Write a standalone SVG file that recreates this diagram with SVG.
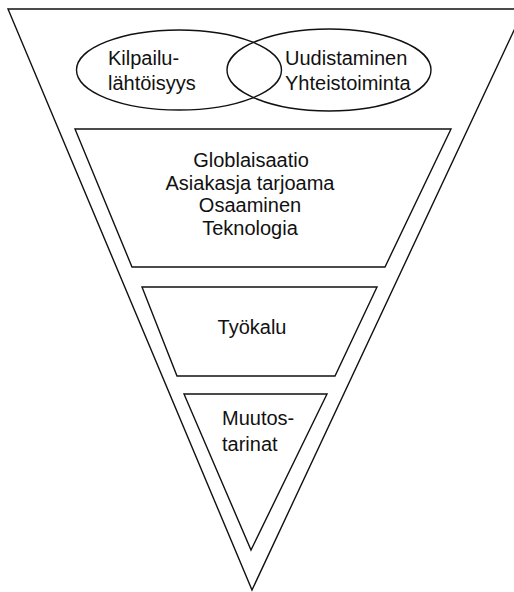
<svg xmlns="http://www.w3.org/2000/svg" width="514" height="592" viewBox="0 0 514 592">
  <style>
    .shape { fill: none; stroke: #111; stroke-width: 1.4; stroke-linejoin: miter; }
    .label { font-family: "Liberation Sans", Arial, sans-serif; font-size: 20px; fill: #111; }
    .mid { text-anchor: middle; }
  </style>
  <rect width="514" height="592" fill="#fff"/>

  <!-- outer funnel -->
  <g id="funnel">
    <polygon class="shape" points="8,9 524,9 252,590"/>
  </g>

  <!-- top level: two overlapping ellipses -->
  <g id="kilpailulahtoisyys">
    <ellipse class="shape" cx="179" cy="70" rx="102.5" ry="40"/>
    <text class="label" x="108" y="65">Kilpailu-</text>
    <text class="label" x="108" y="90">lähtöisyys</text>
  </g>
  <g id="uudistaminen">
    <ellipse class="shape" cx="329" cy="70" rx="102" ry="41"/>
    <text class="label" x="285" y="65">Uudistaminen</text>
    <text class="label" x="285" y="90">Yhteistoiminta</text>
  </g>

  <!-- second level -->
  <g id="globalisaatio">
    <polygon class="shape" points="75,129 451,129 385,267 132,267"/>
    <text class="label mid" x="251" y="167">Globlaisaatio</text>
    <text class="label mid" x="250" y="190">Asiakasja tarjoama</text>
    <text class="label mid" x="250" y="212">Osaaminen</text>
    <text class="label mid" x="250" y="235">Teknologia</text>
  </g>

  <!-- third level -->
  <g id="tyokalu">
    <polygon class="shape" points="142,287 377,287 335,376 177,376"/>
    <text class="label mid" x="252" y="334">Työkalu</text>
  </g>

  <!-- bottom level -->
  <g id="muutostarinat">
    <polygon class="shape" points="184,394 327,394 251,550"/>
    <text class="label" x="222" y="425">Muutos-</text>
    <text class="label" x="222" y="451">tarinat</text>
  </g>

  <g id="connectors"/>
</svg>
